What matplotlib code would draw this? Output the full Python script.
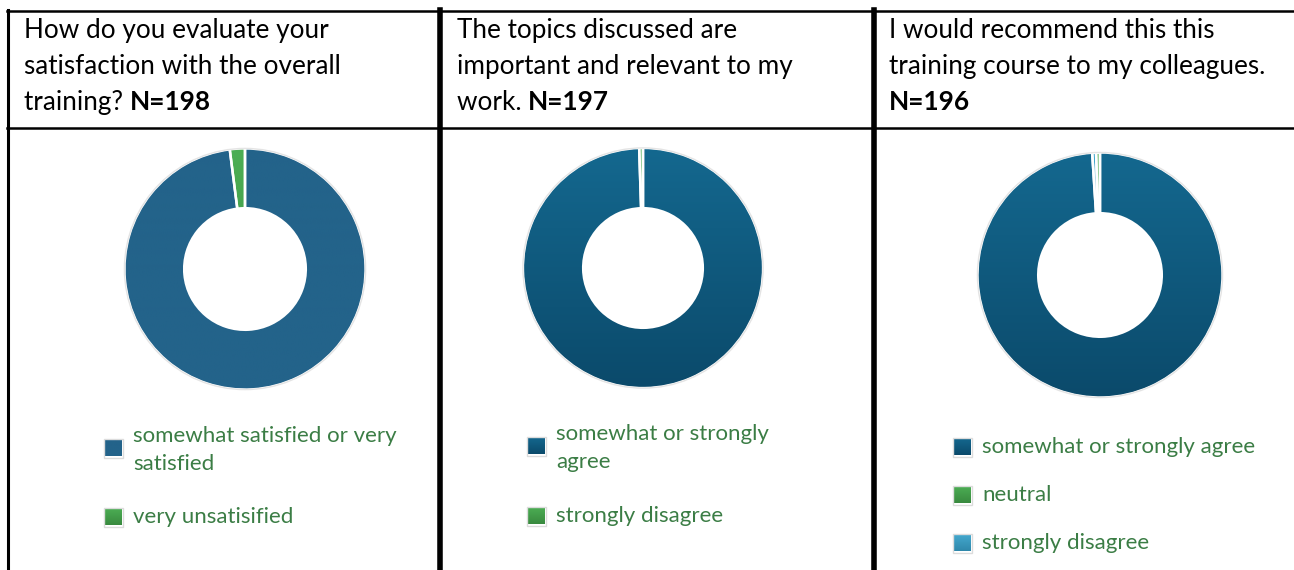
import numpy as np
import matplotlib
matplotlib.use("Agg")
import matplotlib.pyplot as plt
from matplotlib.patches import Rectangle, Circle
from matplotlib.colors import to_rgb

plt.rcParams['font.family'] = ['Lato', 'DejaVu Sans']

W, H = 1294, 570

# header questions (each line), with bold respondent count at the end
questions = [
    ["How do you evaluate your", "satisfaction with the overall", "training? "],
    ["The topics discussed are", "important and relevant to my", "work. "],
    ["I would recommend this this", "training course to my colleagues.", ""],
]
n_resp = [198, 197, 196]

labels1 = ["somewhat satisfied or very\nsatisfied", "very unsatisified"]
values1 = [194, 4]
labels2 = ["somewhat or strongly\nagree", "strongly disagree"]
values2 = [196, 1]
labels3 = ["somewhat or strongly agree", "neutral", "strongly disagree"]
values3 = [194, 1, 1]

# gradient colours (top, bottom)
flat_blue = ("#23638a", "#23638a")
blue = ("#14688f", "#0b4a6b")
green = ("#4cae54", "#398a3f")
light_blue = ("#45a9cf", "#2f88ab")

charts = [
    dict(labels=labels1, values=values1, colors=[flat_blue, green], order=[0, 1],
         center=(245, 269), r=123, rin=62,
         leg_x=104, leg_y=[448, 517]),
    dict(labels=labels2, values=values2, colors=[blue, green], order=[0, 1],
         center=(643, 268), r=122.5, rin=61,
         leg_x=527, leg_y=[446, 516]),
    dict(labels=labels3, values=values3, colors=[blue, green, light_blue], order=[0, 2, 1],
         center=(1100, 275), r=125, rin=63,
         leg_x=953, leg_y=[447, 495, 543]),
]

fig = plt.figure(figsize=(W / 100, H / 100), dpi=100)
bg = fig.add_axes([0, 0, 1, 1])
bg.set_xlim(0, W)
bg.set_ylim(H, 0)
bg.axis('off')

# table lines
bg.plot([7, W], [11, 11], color='black', lw=1.8)
bg.plot([7, W], [128, 128], color='black', lw=1.8)
bg.plot([8, 8], [10, H], color='black', lw=2.2)
bg.plot([439.5, 439.5], [10, H], color='black', lw=4)
bg.plot([873.5, 873.5], [10, H], color='black', lw=4)


def gradient_img(ax, top, bottom, extent, clip):
    c1 = np.array(to_rgb(top))
    c2 = np.array(to_rgb(bottom))
    t = np.linspace(0, 1, 64)[:, None]
    img = (c1 * (1 - t) + c2 * t)[:, None, :]
    im = ax.imshow(img, extent=extent, aspect='auto', zorder=2,
                   interpolation='bilinear')
    im.set_clip_path(clip)
    return im


text_x = [24, 457, 889]
fig.canvas.draw()
renderer = fig.canvas.get_renderer()
for i, lines in enumerate(questions):
    for j, line in enumerate(lines):
        y = 38 + 36 * j
        t = bg.text(text_x[i], y, line, fontsize=18.8, va='baseline', ha='left')
        if j == 2:
            if line:
                bb = t.get_window_extent(renderer)
                x_bold = bb.x1
            else:
                x_bold = text_x[i]
            bg.text(x_bold, y, f"N={n_resp[i]}", fontsize=18.8, va='baseline',
                    ha='left', fontweight='bold')

for ch in charts:
    cx, cy = ch['center']
    r = ch['r']
    ax = fig.add_axes([(cx - r) / W, 1 - (cy + r) / H, 2 * r / W, 2 * r / H])
    vals = [ch['values'][k] for k in ch['order']]
    cols = [ch['colors'][k] for k in ch['order']]
    wedges, _ = ax.pie(vals, startangle=90, counterclock=False, radius=1,
                       wedgeprops=dict(width=1 - ch['rin'] / r, facecolor='none',
                                       edgecolor='white', linewidth=1.8))
    for w, c in zip(wedges, cols):
        w.set_zorder(3)
        gradient_img(ax, c[0], c[1], (-1, 1, -1, 1), w)
    ax.add_patch(Circle((0, 0), 1.0, facecolor='none', edgecolor='#e4e4e4',
                        lw=1.0, zorder=4))
    ax.set_xlim(-1.02, 1.02)
    ax.set_ylim(-1.02, 1.02)
    ax.axis('off')

    # legend
    for k, (lab, ly) in enumerate(zip(ch['labels'], ch['leg_y'])):
        c = ch['colors'][k]
        sq = Rectangle((ch['leg_x'], ly - 9.5), 19, 19, facecolor='none',
                       edgecolor='#dcdcdc', lw=1.0, zorder=3)
        bg.add_patch(sq)
        inner = Rectangle((ch['leg_x'] + 1, ly - 8.5), 17, 17, facecolor='none',
                          edgecolor='none')
        bg.add_patch(inner)
        gradient_img(bg, c[0], c[1], (ch['leg_x'] + 1, ch['leg_x'] + 18,
                                      ly + 8.5, ly - 8.5), inner)
        parts = lab.split('\n')
        y0 = ly if len(parts) == 1 else ly - 12.5
        for j, part in enumerate(parts):
            bg.text(ch['leg_x'] + 29, y0 + 29 * j, part, fontsize=16,
                    color='#3b7d45', va='center', ha='left')

fig.savefig("out.png", dpi=100)
